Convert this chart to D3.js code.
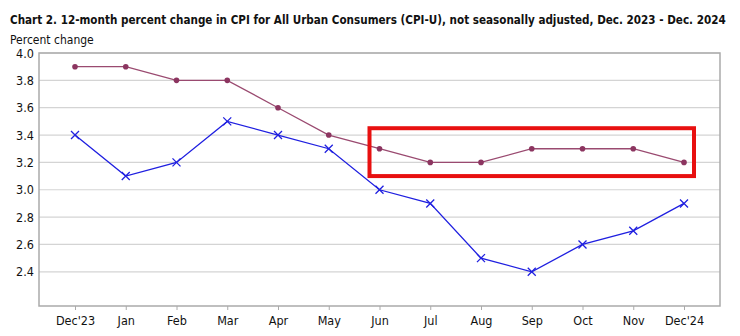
<!DOCTYPE html>
<html>
<head>
<meta charset="utf-8">
<script src="https://cdn.jsdelivr.net/npm/d3@7"></script>
<style>
  body { margin: 0; background: #fff; }
  svg { display: block; font-family: "DejaVu Sans Condensed", "DejaVu Sans", sans-serif; }
</style>
</head>
<body>
<svg id="chart" width="740" height="336"></svg>
<script>
// months along the x axis
let months = ["Dec'23", "Jan", "Feb", "Mar", "Apr", "May", "Jun", "Jul", "Aug", "Sep", "Oct", "Nov", "Dec'24"];
// all items less food and energy (dots)
let coreValues = [3.9, 3.9, 3.8, 3.8, 3.6, 3.4, 3.3, 3.2, 3.2, 3.3, 3.3, 3.3, 3.2];
// all items (crosses)
let allItemsValues = [3.4, 3.1, 3.2, 3.5, 3.4, 3.3, 3.0, 2.9, 2.5, 2.4, 2.6, 2.7, 2.9];
let yTicks = [2.4, 2.6, 2.8, 3.0, 3.2, 3.4, 3.6, 3.8, 4.0];
// months covered by the highlight box
let highlight = {from: "Jun", to: "Dec'24", low: 3.1, high: 3.45};

let titleText = "Chart 2. 12-month percent change in CPI for All Urban Consumers (CPI-U), not seasonally adjusted, Dec. 2023 - Dec. 2024";

let svg = d3.select("#chart");
let plot = {left: 39, right: 720, top: 53, bottom: 306};

let x = d3.scalePoint().domain(months).range([75, 684]);
let y = d3.scaleLinear().domain([2.15, 4.0]).range([plot.bottom, plot.top]);

let title = svg.append("text")
    .attr("x", 10).attr("y", 24)
    .attr("font-size", 13).attr("font-weight", "bold")
    .attr("fill", "#111")
    .text(titleText);
// shrink the title font until it fits the chart width
let tw = title.node().getComputedTextLength();
if (tw > 716) title.attr("font-size", 13 * 716 / tw);

svg.append("text")
    .attr("x", 10).attr("y", 44)
    .attr("font-size", 12)
    .attr("fill", "#111")
    .text("Percent change");

// gridlines
svg.append("g").selectAll("line").data(yTicks).enter().append("line")
    .attr("x1", plot.left).attr("x2", plot.right)
    .attr("y1", d => y(d)).attr("y2", d => y(d))
    .attr("stroke", "#d4d4d4").attr("stroke-width", 1.2);

// y axis labels
svg.append("g").selectAll("text").data(yTicks).enter().append("text")
    .attr("x", 34).attr("y", d => y(d) + 4.5)
    .attr("text-anchor", "end")
    .attr("font-size", 12.5).attr("fill", "#111")
    .text(d => d.toFixed(1));

// plot frame
svg.append("rect")
    .attr("x", plot.left).attr("y", plot.top)
    .attr("width", plot.right - plot.left).attr("height", plot.bottom - plot.top)
    .attr("fill", "none").attr("stroke", "#aaa").attr("stroke-width", 1.5);

// x axis ticks and labels
let xAxis = svg.append("g").attr("transform", `translate(0, ${plot.bottom})`)
    .call(d3.axisBottom(x).tickSize(4).tickPadding(6));
xAxis.select(".domain").remove();
xAxis.selectAll(".tick line").attr("stroke", "#aaa");
xAxis.selectAll(".tick text")
    .attr("font-size", 12.5).attr("fill", "#111")
    .attr("font-family", "\"DejaVu Sans Condensed\", \"DejaVu Sans\", sans-serif");

let line = d3.line().x((d, i) => x(months[i])).y(d => y(d));

// core series
svg.append("path").datum(coreValues)
    .attr("d", line)
    .attr("fill", "none").attr("stroke", "#9a4a70").attr("stroke-width", 1.3);
svg.append("g").selectAll("circle").data(coreValues).enter().append("circle")
    .attr("cx", (d, i) => x(months[i])).attr("cy", d => y(d))
    .attr("r", 2.8).attr("fill", "#8c3560");

// all items series
svg.append("path").datum(allItemsValues)
    .attr("d", line)
    .attr("fill", "none").attr("stroke", "#1f1fe0").attr("stroke-width", 1.3);
let s = 4;
svg.append("g").selectAll("path").data(allItemsValues).enter().append("path")
    .attr("d", (d, i) => {
        let cx = x(months[i]), cy = y(d);
        return `M${cx - s},${cy - s}L${cx + s},${cy + s}M${cx - s},${cy + s}L${cx + s},${cy - s}`;
    })
    .attr("stroke", "#1f1fe0").attr("stroke-width", 1.3).attr("fill", "none");

// highlight box
svg.append("rect")
    .attr("x", x(highlight.from) - 10)
    .attr("y", y(highlight.high))
    .attr("width", x(highlight.to) - x(highlight.from) + 20)
    .attr("height", y(highlight.low) - y(highlight.high))
    .attr("fill", "none").attr("stroke", "#e81010").attr("stroke-width", 4);
</script>
</body>
</html>
